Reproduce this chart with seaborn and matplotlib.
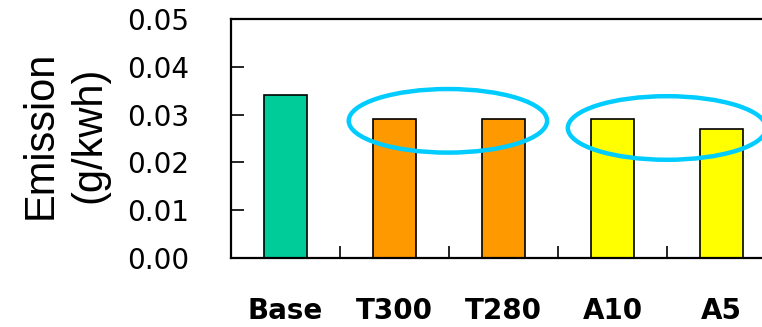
import seaborn as sns
import matplotlib.pyplot as plt
import pandas as pd
from matplotlib.patches import Ellipse

# данные
categories = ['Base', 'T300', 'T280', 'A10', 'A5']
emission = [0.034, 0.029, 0.029, 0.029, 0.027]
bar_colors = ['#00CC99', '#FF9900', '#FF9900', '#FFFF00', '#FFFF00']
y_ticks = [0.00, 0.01, 0.02, 0.03, 0.04, 0.05]

sns.set_style('white', {'text.color': 'black', 'xtick.color': 'black',
                        'ytick.color': 'black', 'axes.labelcolor': 'black'})
plt.rcParams['font.family'] = ['Liberation Sans', 'DejaVu Sans']

df = pd.DataFrame({'case': categories, 'emission': emission})

fig = plt.figure(figsize=(7.62, 3.27), dpi=100)
# ось шире картинки: правый край обрезан как в оригинале
ax = fig.add_axes([231 / 762, 69 / 327, 545 / 762, 239 / 327])

sns.barplot(data=df, x='case', y='emission', hue='case',
            palette=bar_colors, saturation=1, width=0.39, edgecolor='black',
            linewidth=1.2, legend=False, ax=ax)

ax.set_xlim(-0.5, len(categories) - 0.5)
ax.set_ylim(0, 0.05)
ax.set_yticks(y_ticks)
ax.set_yticklabels([f'{v:.2f}' for v in y_ticks], fontsize=20, family='DejaVu Sans')
ax.set_xticks(range(len(categories)))
ax.set_xticklabels(categories, fontsize=20, fontweight='bold', family='DejaVu Sans')
ax.set_xticks([i + 0.5 for i in range(len(categories) - 1)], minor=True)

ax.tick_params(axis='y', direction='in', length=9, width=1.2, pad=30, left=True)
ax.tick_params(axis='x', which='major', length=0, pad=28)
ax.tick_params(axis='x', which='minor', direction='in', length=9, width=1.2, bottom=True)

for side in ['left', 'bottom', 'top']:
    ax.spines[side].set_linewidth(1.6)
    ax.spines[side].set_color('black')
ax.spines['right'].set_visible(False)

ax.set_xlabel('')
ax.set_ylabel('Emission\n(g/kwh)', fontsize=30, linespacing=1.28)
ax.yaxis.set_label_coords(-0.224, 0.515)

# выделение групп
for cx, cy in [(1.49, 0.0287), (3.5, 0.0272)]:
    ax.add_patch(Ellipse((cx, cy), 1.82, 0.0133, fill=False,
                         edgecolor='#00CCFF', linewidth=3.2,
                         clip_on=False, zorder=5))

fig.savefig('out.png', dpi=100)
